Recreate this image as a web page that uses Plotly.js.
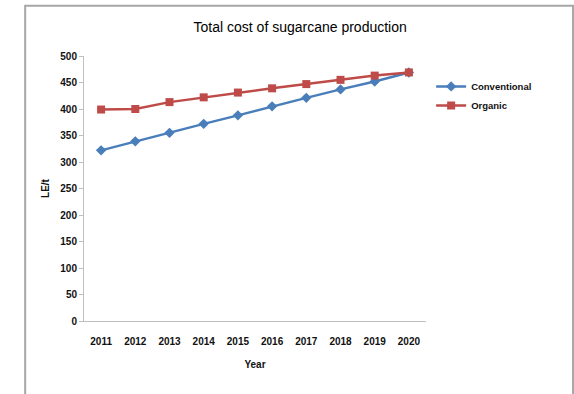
<!DOCTYPE html>
<html>
<head>
<meta charset="utf-8">
<script src="https://cdn.plot.ly/plotly-3.0.1.min.js"></script>
<style>
  html, body { margin: 0; padding: 0; background: #ffffff; }
  #chart { width: 574px; height: 394px; }
</style>
</head>
<body>
<div id="chart"></div>
<script>
// Production years on the category axis
const years = ["2011", "2012", "2013", "2014", "2015", "2016", "2017", "2018", "2019", "2020"];

// Total cost (LE per tonne) for each farming system
const conventional = [322, 339, 355, 372, 388, 405, 421, 437, 452, 469];
const organic = [399, 400, 413, 422, 431, 439, 447, 455, 463, 469];

const yTicks = [0, 50, 100, 150, 200, 250, 300, 350, 400, 450, 500];

const FONT = "'Liberation Sans', Arial, sans-serif";
const TEXT = "#111111";
const boldFont = (size) => ({ family: FONT, size: size, color: TEXT, weight: "bold" });

const traces = [
  {
    x: years, y: conventional, name: "Conventional",
    type: "scatter", mode: "lines+markers",
    line: { color: "#4a7ebb", width: 2.5 },
    marker: { symbol: "diamond", size: 8, color: "#4a7ebb" }
  },
  {
    x: years, y: organic, name: "Organic",
    type: "scatter", mode: "lines+markers",
    line: { color: "#be4b48", width: 2.5 },
    marker: { symbol: "square", size: 8, color: "#be4b48" }
  }
];

const layout = {
  width: 574, height: 394,
  margin: { l: 84, r: 148, t: 56, b: 73 },
  paper_bgcolor: "#ffffff", plot_bgcolor: "#ffffff",
  font: { family: FONT, size: 10, color: TEXT },
  title: {
    text: "Total cost of sugarcane production",
    font: { family: FONT, size: 14, color: "#000000" },
    x: 0.523, xanchor: "center", y: 0.93, yanchor: "middle"
  },
  showlegend: true,
  legend: {
    x: 1.015, xanchor: "left", y: 0.94, yanchor: "top",
    font: boldFont(9.5),
    itemwidth: 30, tracegroupgap: 8, bgcolor: "rgba(0,0,0,0)"
  },
  xaxis: {
    type: "category", range: [-0.5, 9.5],
    showgrid: false, zeroline: false,
    showline: true, linecolor: "#bfbfbf", linewidth: 1,
    ticks: "", ticklabelstandoff: 11,
    tickfont: boldFont(10),
    title: { text: "Year", standoff: 14, font: boldFont(10) },
    fixedrange: true
  },
  yaxis: {
    range: [0, 500], tickvals: yTicks, ticktext: yTicks.map(String),
    showgrid: false, zeroline: false,
    showline: true, linecolor: "#bfbfbf", linewidth: 1,
    ticks: "outside", ticklen: 4, tickcolor: "#bfbfbf",
    tickfont: boldFont(10),
    title: { text: "LE/t", standoff: 8, font: boldFont(10) },
    fixedrange: true
  },
  shapes: [
    {
      // outer chart frame
      type: "rect", xref: "paper", yref: "paper", layer: "below",
      x0: -0.172, x1: 1.430, y0: -0.30, y1: 1.19,
      line: { color: "#a6a6a6", width: 2 }, fillcolor: "rgba(0,0,0,0)"
    }
  ]
};

Plotly.newPlot("chart", traces, layout, { displayModeBar: false, staticPlot: true });
</script>
</body>
</html>
